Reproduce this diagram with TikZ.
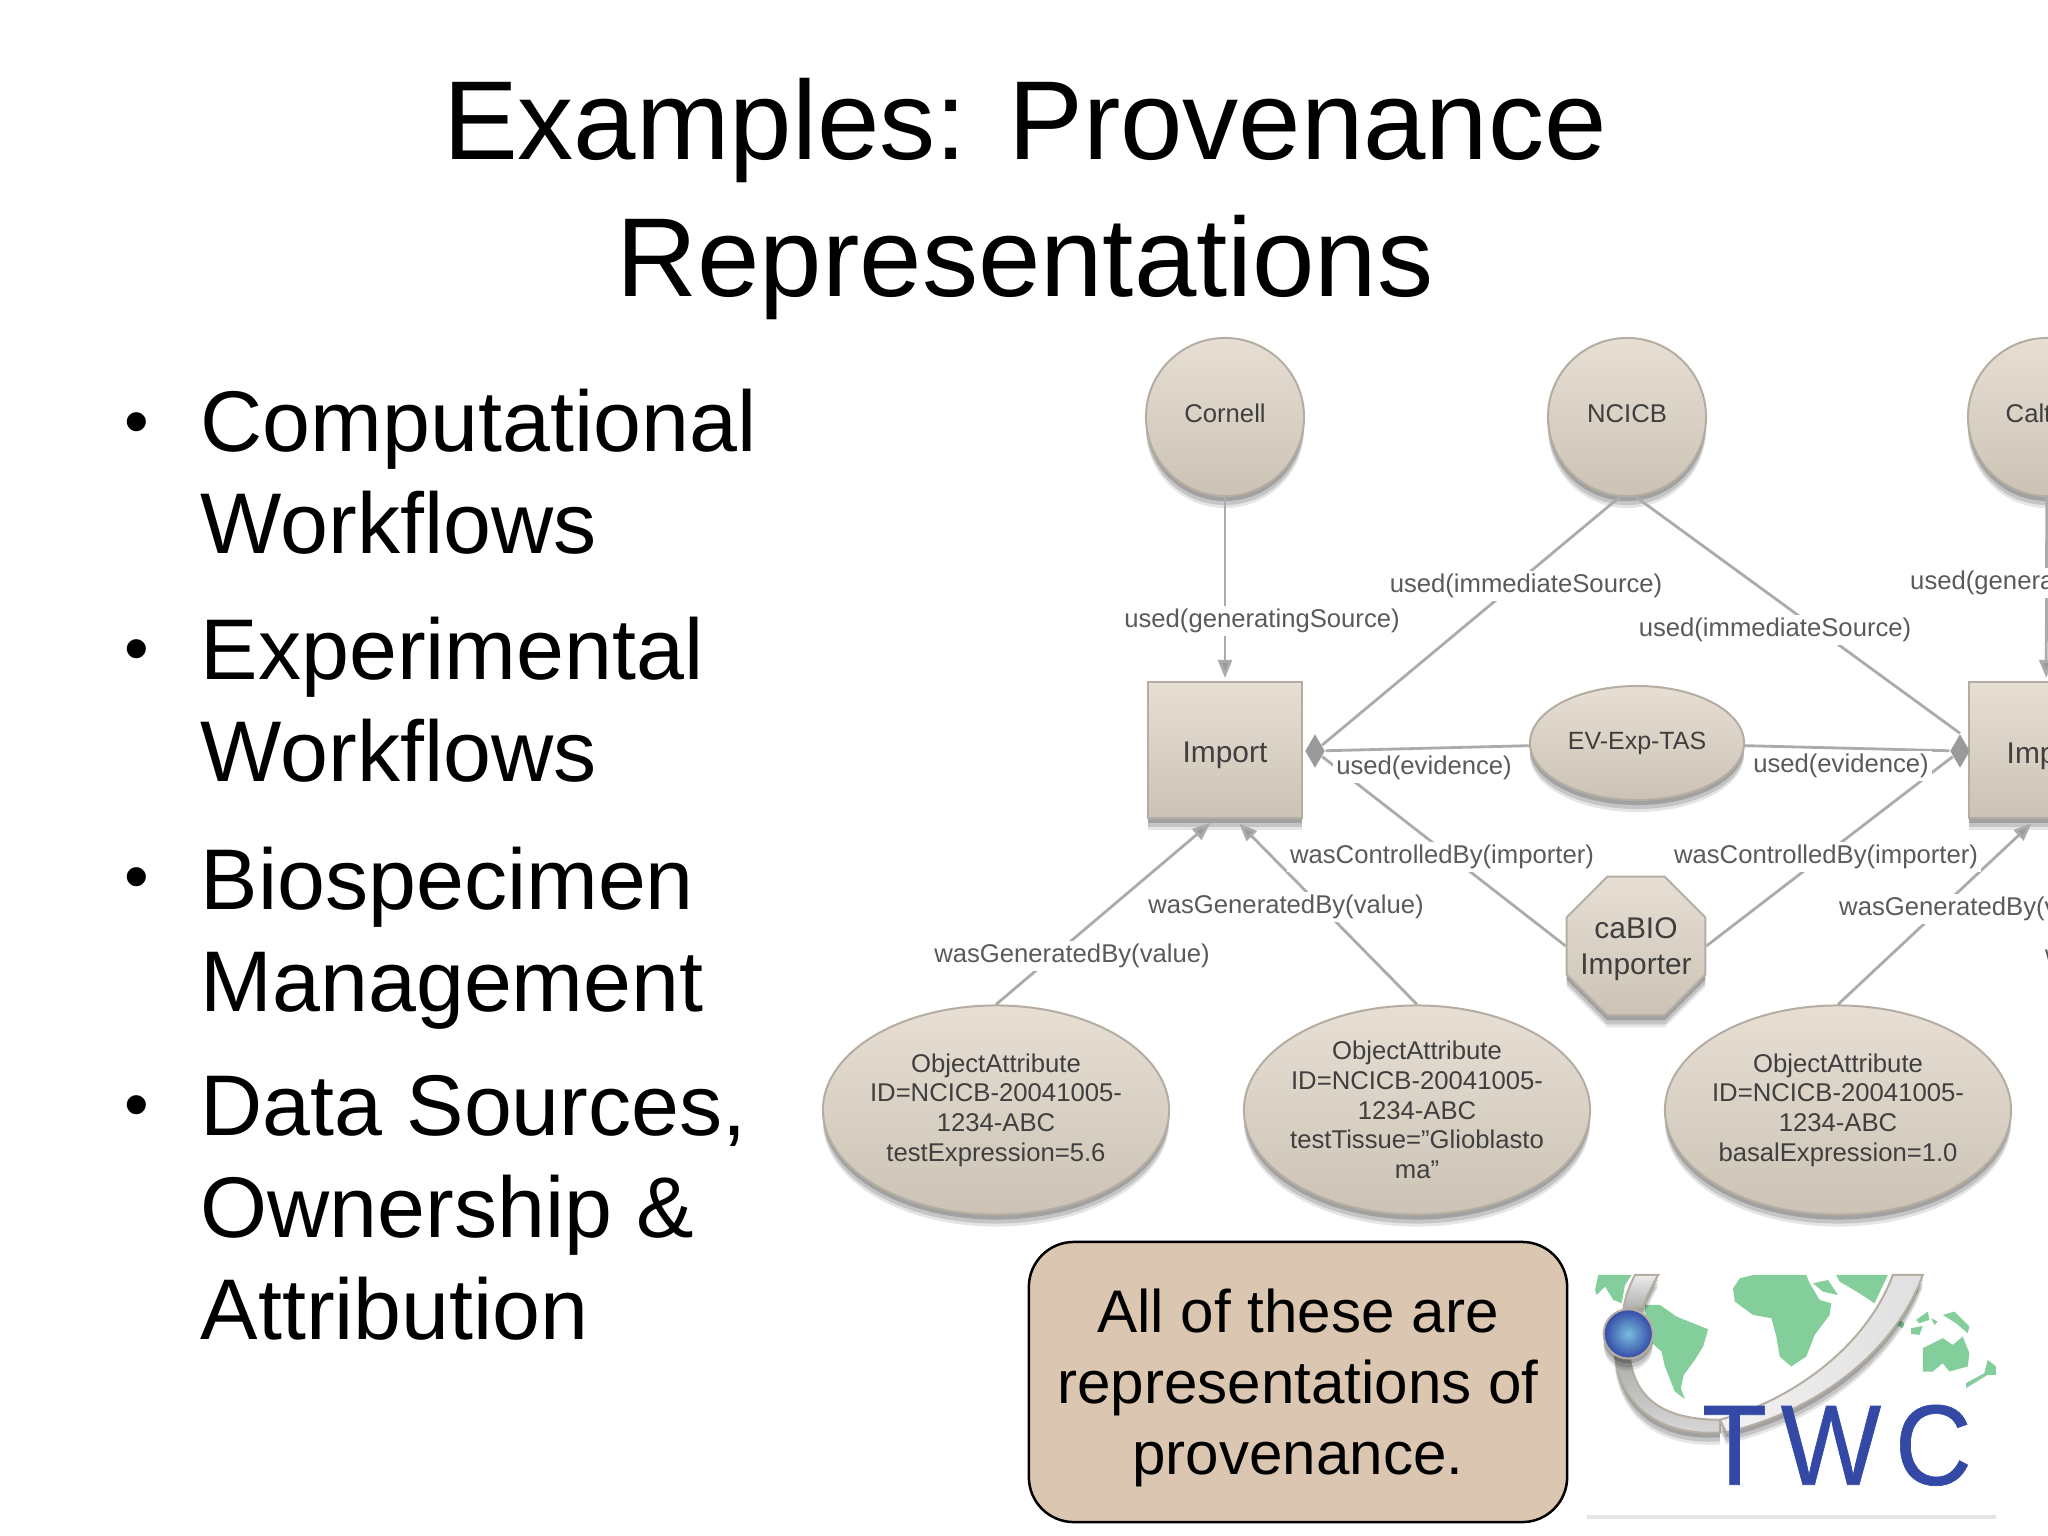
\documentclass[tikz,border=0pt]{standalone}
\usepackage{fontspec}
\setmainfont{Liberation Sans}
\newfontfamily\logofont[LetterSpace=13,FakeBold=0.6]{Liberation Sans}
\usetikzlibrary{shapes.geometric,shadows,arrows.meta}
\definecolor{nodetop}{HTML}{E7DFD4}
\definecolor{nodebot}{HTML}{CCC3B6}
\definecolor{nodeline}{HTML}{B5ADA1}
\definecolor{edgegrey}{HTML}{ABABAB}
\definecolor{tipgrey}{HTML}{9A9A9A}
\definecolor{labelgrey}{HTML}{5A5A5A}
\definecolor{notetan}{HTML}{DBC7B1}
\definecolor{mapgreen}{HTML}{84CE9B}
\definecolor{twcblue}{HTML}{3449A5}
\begin{document}
\begin{tikzpicture}[x=0.01cm,y=-0.01cm]
    \tikzset{%
      shade/.style={top color=nodetop, bottom color=nodebot, draw=nodeline, line width=.02cm,
        drop shadow={shadow xshift=0cm, shadow yshift=-.12cm, fill=black, opacity=.1},
        drop shadow={shadow xshift=0cm, shadow yshift=-.09cm, fill=black, opacity=.14},
        drop shadow={shadow xshift=0cm, shadow yshift=-.05cm, fill=black, opacity=.18}},
      src/.style={shade, circle, inner sep=0pt, minimum size=1.58cm, text=labelgrey!70!black, text depth=2.2pt,
        font=\fontsize{7.3}{8.45}\selectfont},
      proc/.style={shade, rectangle, inner sep=0pt, minimum width=1.54cm, minimum height=1.36cm,
        text=labelgrey!70!black, text height=9pt, text depth=1.8pt, font=\fontsize{8.5}{9.6}\selectfont},
      attr/.style={shade, ellipse, inner sep=-.05cm, minimum width=3.46cm, minimum height=2.09cm,
        align=center, text=labelgrey!70!black, font=\fontsize{7.3}{8.45}\selectfont},
      tip/.style={diamond, fill=tipgrey, inner sep=0pt, minimum width=.2cm, minimum height=.34cm},
      edge/.style={draw=edgegrey, line width=.028cm},
      arr/.style={edge, -{Triangle[length=.18cm,width=.14cm,fill=tipgrey]}},
      lbl/.style={fill=white, inner sep=1pt, text=labelgrey, font=\fontsize{7.3}{8.45}\selectfont},
      bul/.style={inner sep=0pt, font=\fontsize{20}{24}\selectfont},
      item/.style={anchor=north west, inner sep=0pt, align=left, font=\fontsize{24.5}{29}\selectfont},
    }
    \useasboundingbox (0,0) rectangle (2048,1536);
    \clip (0,0) rectangle (2048,1536);

    % title and list
    \node[inner sep=0pt, anchor=north, align=center, font=\fontsize{31.9}{38.7}\selectfont] (Title) at (1025,78)
      {Examples: Provenance\\Representations};
    \node[bul] (B1) at (137,429) {•};
    \node[item] (L1) at (200,388) {Computational\\Workflows};
    \node[bul] (B2) at (137,656) {•};
    \node[item] (L2) at (200,616) {Experimental\\Workflows};
    \node[bul] (B3) at (137,884) {•};
    \node[item] (L3) at (200,846) {Biospecimen\\Management};
    \node[bul] (B4) at (137,1112) {•};
    \node[item] (L4) at (200,1075) {Data Sources,\\Ownership \&\\Attribution};

    % graph nodes
    \node[src] (Cornell) at (1225,417) {Cornell};
    \node[src] (NCICB) at (1627,417) {NCICB};
    \node[src] (Cal) at (2047,417) {};
    \node[anchor=west, inner sep=0pt, text=labelgrey!70!black, font=\fontsize{7.3}{8.45}\selectfont] (CalT) at (2005,413) {Calt};
    \node[proc] (Imp1) at (1225,750) {Import};
    \node[proc] (Imp2) at (2046,750) {};
    \node[anchor=west, inner sep=0pt, text=labelgrey!70!black, font=\fontsize{8.5}{9.6}\selectfont] (Imp2T) at (2006,756) {Imp};
    \node[tip] (DL) at (1315,751) {};
    \node[tip] (DR) at (1960,751) {};
    \node[shade, ellipse, inner sep=0pt, minimum width=2.14cm, minimum height=1.14cm, text=labelgrey!70!black,
      font=\fontsize{7.1}{8.45}\selectfont] (EV) at (1637,743) {EV-Exp-TAS};
    \node[shade, regular polygon, regular polygon sides=8, inner sep=0pt, minimum size=1.5cm] (Cab) at (1636,946) {};
    \node[inner sep=0pt, align=center, text=labelgrey!70!black, font=\fontsize{8.5}{10.4}\selectfont] (CabT) at (1636,949) {caBIO\\Importer};
    \node[attr] (E1) at (996,1110) {ObjectAttribute\\ID=NCICB-20041005-\\1234-ABC\\testExpression=5.6};
    \node[attr] (E2) at (1417,1110) {ObjectAttribute\\ID=NCICB-20041005-\\1234-ABC\\testTissue="Glioblasto\\ma"};
    \node[attr] (E3) at (1838,1110) {ObjectAttribute\\ID=NCICB-20041005-\\1234-ABC\\basalExpression=1.0};

    % connectors
    \draw[arr, shorten >=.03cm] (Cornell) -- (Imp1);
    \draw[arr, shorten >=.03cm] (Cal) -- (Imp2);
    \draw[edge] (NCICB.-95) -- (DL);
    \draw[edge] (NCICB.-84) -- (DR.north);
    \draw[edge] (EV) -- (DL);
    \draw[edge] (EV) -- (DR);
    \draw[edge] (Cab.180) -- (DL);
    \draw[edge] (Cab.0) -- (DR);
    \draw[arr, shorten >=.06cm] (E1.north) -- ([xshift=-.1cm]Imp1.south);
    \draw[arr, shorten >=.06cm] (E2.north) -- ([xshift=.1cm]Imp1.south);
    \draw[arr, shorten >=.06cm] (E3.north) -- ([xshift=-.1cm]Imp2.south);

    % connector labels
    \node[lbl] (U1) at (1262,621) {used(generatingSource)};
    \node[lbl] (U2) at (1526,586) {used(immediateSource)};
    \node[lbl] (U3) at (1775,630) {used(immediateSource)};
    \node[lbl, anchor=west] (U4) at (1906,583) {used(genera};
    \node[lbl] (V1) at (1424,768) {used(evidence)};
    \node[lbl] (V2) at (1841,766) {used(evidence)};
    \node[lbl] (C1) at (1442,857) {wasControlledBy(importer)};
    \node[lbl] (C2) at (1826,857) {wasControlledBy(importer)};
    \node[lbl] (G2) at (1286,907) {wasGeneratedBy(value)};
    \node[lbl] (G1) at (1072,956) {wasGeneratedBy(value)};
    \node[lbl, anchor=west] (G3) at (1835,909) {wasGeneratedBy(v};
    \node[lbl, anchor=west, fill=none] (G4) at (2041,957) {w};

    % note
    \node[draw=black, line width=.025cm, fill=notetan, rounded corners=.45cm, inner sep=0pt,
      minimum width=5.38cm, minimum height=2.8cm, align=center,
      font=\fontsize{17.1}{20.2}\selectfont] (Note) at (1298,1382)
      {\rule{0pt}{16pt}All of these are\\representations of\\provenance.};

    % logo
    \begin{scope}[shift={(1580,1260)},x=.003333cm,y=-.003333cm]
      \fill[mapgreen] (55,45) -- (155,45) -- (135,75) -- (125,130) -- (100,120) -- (75,80) -- (50,105) -- (45,90) -- cycle;
      \fill[mapgreen] (195,135) -- (240,135) -- (290,170) -- (385,208) -- (370,260) -- (345,300) -- (312,345)
        -- (303,385) -- (315,418) -- (285,395) -- (255,320) -- (245,275) -- (200,235) -- cycle;
      \fill[mapgreen] (460,85) -- (480,55) -- (520,45) -- (680,45) -- (690,70) -- (720,120) -- (755,130) -- (750,165)
        -- (705,225) -- (680,290) -- (635,320) -- (600,290) -- (590,230) -- (575,175) -- (520,165) -- (465,125) -- cycle;
      \fill[mapgreen] (770,45) -- (925,45) -- (885,130) -- (840,100) -- (780,65) -- cycle;
      \fill[mapgreen] (700,70) -- (745,60) -- (775,105) -- (730,95) -- cycle;
      \fill[mapgreen] (1030,45) -- (1000,70) -- (1015,95) -- (985,130) -- (965,125) -- (985,85) -- cycle;
      \fill[mapgreen] (945,170) -- (975,190) -- (970,205) -- (950,195) -- cycle;
      \fill[mapgreen] (995,205) -- (1030,198) -- (1020,225) -- (995,222) -- cycle;
      \fill[mapgreen] (1010,180) -- (1045,155) -- (1050,180) -- (1020,190) -- cycle;
      \fill[mapgreen] (1055,175) -- (1075,185) -- (1065,195) -- cycle;
      \fill[mapgreen] (1090,165) -- (1125,155) -- (1170,200) -- (1165,220) -- (1130,190) -- cycle;
      \fill[mapgreen] (1030,265) -- (1090,235) -- (1120,255) -- (1150,230) -- (1170,280) -- (1165,320) -- (1110,335)
        -- (1090,310) -- (1060,335) -- (1030,335) -- cycle;
      \fill[mapgreen] (1225,300) -- (1250,320) -- (1250,345) -- (1225,345) -- (1160,385) -- (1160,370) -- (1215,340) -- cycle;
      % swoosh
      \shade[top color=gray!15, bottom color=gray!65] (165,45) -- (235,45) .. controls (215,80) and (200,110) .. (190,140)
        -- (130,150) .. controls (135,110) and (150,75) .. (165,45) -- cycle;
      \shade[top color=gray!65, bottom color=gray!30] (105,290) -- (150,295) .. controls (165,400) and (230,480) .. (420,480)
        -- (420,518) .. controls (240,530) and (125,440) .. (105,290) -- cycle;
      \shade[left color=gray!10, middle color=gray!65, right color=gray!25] (940,45) -- (1030,45)
        .. controls (960,240) and (760,440) .. (440,518) -- (420,480) .. controls (640,420) and (860,260) .. (940,45) -- cycle;
      \shade[inner color=twcblue!60!cyan!60!white, outer color=twcblue] (145,222) circle [radius=74];
      \node[anchor=base west, inner sep=0pt, xscale=.93, text=twcblue, font=\logofont\fontsize{32.5}{36}\selectfont] (TWC) at (365,675) {TWC};
      \coordinate (R0) at (20,772);
      \coordinate (R1) at (1250,772);
      \draw[line width=.035cm, gray!20] (R0) -- (R1);
    \end{scope}
\end{tikzpicture}
\end{document}
